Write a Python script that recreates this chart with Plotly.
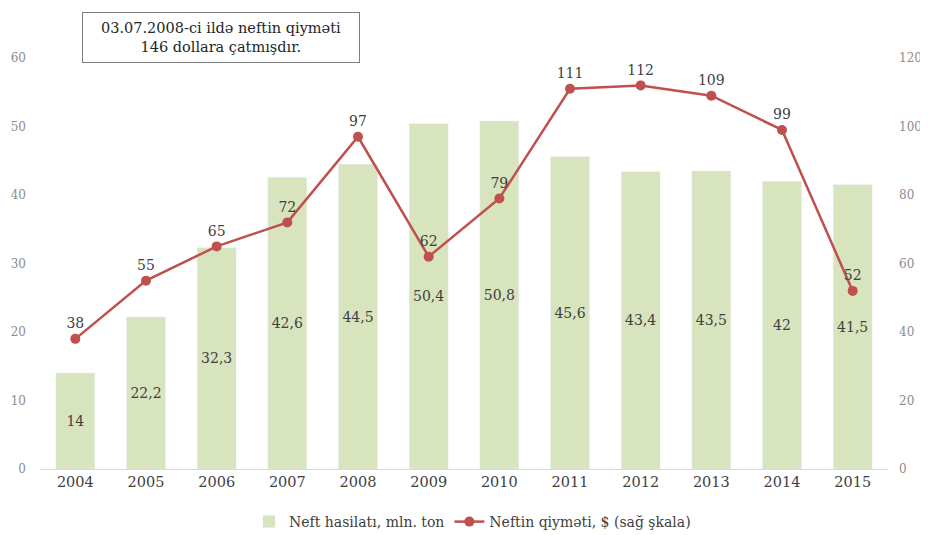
import plotly.graph_objects as go

years = ["2004", "2005", "2006", "2007", "2008", "2009", "2010", "2011", "2012", "2013", "2014", "2015"]
production = [14, 22.2, 32.3, 42.6, 44.5, 50.4, 50.8, 45.6, 43.4, 43.5, 42, 41.5]
production_labels = ["14", "22,2", "32,3", "42,6", "44,5", "50,4", "50,8", "45,6", "43,4", "43,5", "42", "41,5"]
price = [38, 55, 65, 72, 97, 62, 79, 111, 112, 109, 99, 52]

FONT = "DejaVu Serif"
PLOT_H = 411

fig = go.Figure()
fig.add_trace(go.Bar(
    x=years, y=production, name="Neft hasilatı, mln. ton",
    marker_color="#d7e4bd", width=0.55,
    text=production_labels, textposition="inside", insidetextanchor="middle",
    textfont=dict(family=FONT, size=14, color="#404040"),
    yaxis="y",
))
fig.add_trace(go.Scatter(
    x=years, y=price, name="Neftin qiyməti, $ (sağ şkala)",
    mode="lines+markers+text", line=dict(color="#c0504d", width=2.5),
    marker=dict(size=10, color="#c0504d"),
    text=[str(v) for v in price], textposition="top center",
    textfont=dict(family=FONT, size=14, color="#404040"),
    yaxis="y2", cliponaxis=False,
))

fig.update_layout(
    width=928, height=535,
    margin=dict(l=32, r=48, t=50, b=74, autoexpand=False),
    paper_bgcolor="white", plot_bgcolor="white",
    font=dict(family=FONT, color="#404040"),
    xaxis=dict(showline=True, linecolor="#d9d9d9", linewidth=1, ticks="",
               tickfont=dict(family=FONT, size=14.5, color="#404040"), showgrid=False,
               automargin=False, range=[-0.5, 11.5]),
    yaxis=dict(range=[0, 60], dtick=10, showgrid=False, zeroline=False,
               tickfont=dict(family=FONT, size=12, color="#8c8c8c"), ticks="",
               ticklabelstandoff=13, automargin=False),
    yaxis2=dict(range=[0, 120], dtick=20, overlaying="y", side="right", showgrid=False,
                zeroline=False, tickfont=dict(family=FONT, size=12, color="#8c8c8c"), ticks="",
                ticklabelstandoff=10, automargin=False),
    legend=dict(orientation="h", x=0.51, xanchor="center", y=-53 / PLOT_H, yanchor="middle",
                font=dict(family=FONT, size=14, color="#404040")),
    showlegend=True,
    annotations=[dict(
        text="03.07.2008-ci ildə neftin qiyməti<br>146 dollara çatmışdır.",
        xref="paper", yref="paper", x=0.0495, y=1 + 46 / PLOT_H, xanchor="left", yanchor="top",
        showarrow=False, align="center", width=262,
        font=dict(family=FONT, size=14.5, color="#262626"),
        bordercolor="#7f7f7f", borderwidth=1, borderpad=7, bgcolor="white",
    )],
)

fig.write_html("out.html")
